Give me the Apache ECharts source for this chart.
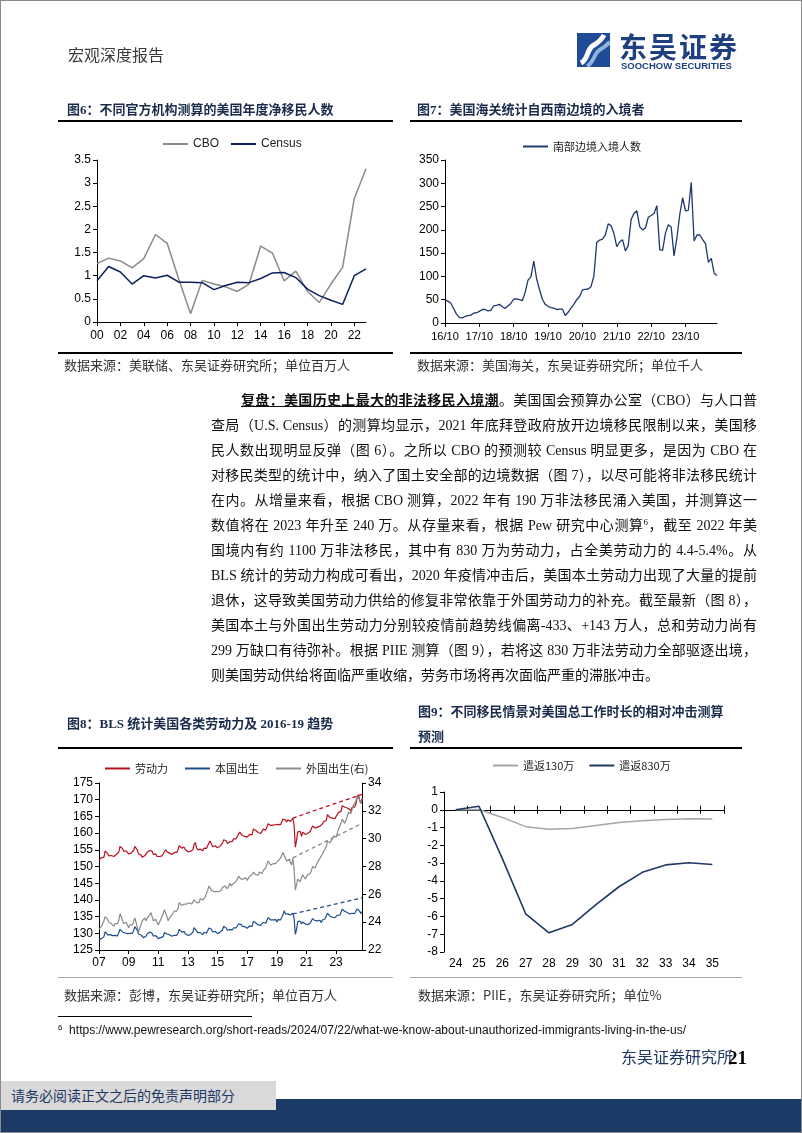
<!DOCTYPE html>
<html lang="zh-CN">
<head>
<meta charset="utf-8">
<script src="https://cdn.jsdelivr.net/npm/echarts@6/dist/echarts.min.js"></script>
<style>
html,body{margin:0;padding:0;background:#fff;}
#page{position:relative;width:802px;height:1133px;overflow:hidden;background:#fff;}
#chart{position:absolute;left:0;top:0;width:802px;height:1133px;z-index:1;}
.t{position:absolute;white-space:nowrap;height:20px;line-height:20px;z-index:2;font-family:"Liberation Serif","Noto Sans CJK SC",serif;}
.ttl{font-size:13px;font-weight:700;color:#1a2b4c;}
.src{font-size:13px;color:#333;font-family:"Noto Sans CJK SC",sans-serif;}
.rule{position:absolute;background:#000;height:2px;z-index:2;}
.p{position:absolute;left:211px;width:546px;height:25px;line-height:25px;font-size:14px;color:#111;
   font-family:"Liberation Serif","Noto Sans CJK SC",serif;text-align:justify;text-align-last:justify;z-index:2;white-space:nowrap;}
.b{font-weight:700;text-decoration:underline;}
.sup{font-size:9px;position:relative;top:-5px;}
#frame{position:absolute;left:0;top:0;width:802px;height:1133px;box-sizing:border-box;border:1px solid #8a8a8a;z-index:5;pointer-events:none;}
</style>
</head>
<body>
<div id="page">
<div id="chart"></div>

<!-- header -->
<div class="t" style="left:68px;top:44px;font-size:16px;color:#3a3a3a;font-family:'Noto Sans CJK SC',sans-serif;">宏观深度报告</div>
<svg style="position:absolute;left:577px;top:33px;z-index:2" width="33" height="34" viewBox="0 0 33 34">
  <rect width="33" height="34" fill="#1f4a96"/>
  <path d="M4 30 C12 26 9 16 17 12 C22 9 25 6 27 2" stroke="#fff" stroke-width="5" fill="none"/>
  <path d="M10 33 C18 29 16 20 24 16 C28 14 30 12 33 9" stroke="#8fb3e0" stroke-width="4" fill="none"/>
</svg>
<div class="t" style="left:619px;top:29px;height:34px;line-height:34px;font-size:28px;color:#1f3f7f;font-weight:700;font-family:'Noto Sans CJK SC',sans-serif;letter-spacing:2px;">东吴证券</div>
<div class="t" style="left:621px;top:60px;height:12px;line-height:12px;font-size:9.5px;color:#1f3f7f;font-weight:700;font-family:'Liberation Sans',Arial,sans-serif;">SOOCHOW SECURITIES</div>

<!-- fig 6 / 7 titles -->
<div class="t ttl" style="left:67px;top:100px;">图6：不同官方机构测算的美国年度净移民人数</div>
<div class="t ttl" style="left:417px;top:100px;">图7：美国海关统计自西南边境的入境者</div>
<div class="rule" style="left:58px;top:120px;width:335px;"></div>
<div class="rule" style="left:410px;top:120px;width:332px;"></div>
<div class="rule" style="left:58px;top:352px;width:335px;"></div>
<div class="rule" style="left:410px;top:352px;width:332px;"></div>
<div class="t src" style="left:64px;top:355px;">数据来源：美联储、东吴证券研究所；单位百万人</div>
<div class="t src" style="left:417px;top:355px;">数据来源：美国海关，东吴证券研究所；单位千人</div>

<!-- paragraph -->
<div class="p" style="top:387.5px;left:241px;width:516px;"><span class="b">复盘：美国历史上最大的非法移民入境潮</span>。美国国会预算办公室（CBO）与人口普</div>
<div class="p" style="top:412.5px;">查局（U.S. Census）的测算均显示，2021 年底拜登政府放开边境移民限制以来，美国移</div>
<div class="p" style="top:437.5px;">民人数出现明显反弹（图 6）。之所以 CBO 的预测较 Census 明显更多，是因为 CBO 在</div>
<div class="p" style="top:462.5px;">对移民类型的统计中，纳入了国土安全部的边境数据（图 7），以尽可能将非法移民统计</div>
<div class="p" style="top:487.5px;">在内。从增量来看，根据 CBO 测算，2022 年有 190 万非法移民涌入美国，并测算这一</div>
<div class="p" style="top:512.5px;">数值将在 2023 年升至 240 万。从存量来看，根据 Pew 研究中心测算<span class="sup">6</span>，截至 2022 年美</div>
<div class="p" style="top:537.5px;">国境内有约 1100 万非法移民，其中有 830 万为劳动力，占全美劳动力的 4.4-5.4%。从</div>
<div class="p" style="top:562.5px;">BLS 统计的劳动力构成可看出，2020 年疫情冲击后，美国本土劳动力出现了大量的提前</div>
<div class="p" style="top:587.5px;">退休，这导致美国劳动力供给的修复非常依靠于外国劳动力的补充。截至最新（图 8），</div>
<div class="p" style="top:612.5px;">美国本土与外国出生劳动力分别较疫情前趋势线偏离-433、+143 万人，总和劳动力尚有</div>
<div class="p" style="top:637.5px;">299 万缺口有待弥补。根据 PIIE 测算（图 9），若将这 830 万非法劳动力全部驱逐出境，</div>
<div class="p" style="top:662.5px;text-align-last:left;">则美国劳动供给将面临严重收缩，劳务市场将再次面临严重的滞胀冲击。</div>

<!-- fig 8 / 9 titles -->
<div class="t ttl" style="left:67px;top:714px;">图8：BLS 统计美国各类劳动力及 2016-19 趋势</div>
<div class="t ttl" style="left:418px;top:702px;">图9：不同移民情景对美国总工作时长的相对冲击测算</div>
<div class="t ttl" style="left:418px;top:727px;">预测</div>
<div class="rule" style="left:58px;top:747px;width:335px;"></div>
<div class="rule" style="left:410px;top:747px;width:332px;"></div>
<div class="rule" style="left:58px;top:977px;width:335px;height:1px;background:#aaa;"></div>
<div class="rule" style="left:410px;top:977px;width:332px;height:1px;background:#aaa;"></div>
<div class="t src" style="left:64px;top:985px;">数据来源：彭博，东吴证券研究所；单位百万人</div>
<div class="t src" style="left:418px;top:985px;">数据来源：PIIE，东吴证券研究所；单位%</div>

<!-- footnote & footer -->
<div class="rule" style="left:58px;top:1016px;width:194px;height:1px;"></div>
<div class="t" style="left:58px;top:1020px;font-size:12px;color:#111;font-family:'Liberation Sans',Arial,sans-serif;"><span style="font-size:8px;position:relative;top:-4px;">6</span>&nbsp; https://www.pewresearch.org/short-reads/2024/07/22/what-we-know-about-unauthorized-immigrants-living-in-the-us/</div>
<div class="t" style="left:621px;top:1046px;font-size:16px;color:#1f3864;font-family:'Noto Sans CJK SC',sans-serif;">东吴证券研究所</div>
<div class="t" style="left:728px;top:1048px;font-size:19px;font-weight:700;color:#000;font-family:'Liberation Serif',serif;">21</div>
<div style="position:absolute;left:0;top:1099px;width:802px;height:34px;background:#1b3a66;z-index:2;"></div>
<div style="position:absolute;left:0;top:1081px;width:276px;height:29px;background:#d9d9d9;z-index:3;"></div>
<div class="t" style="left:11px;top:1085px;font-size:14px;color:#1f3864;z-index:4;font-family:'Noto Sans CJK SC',sans-serif;">请务必阅读正文之后的免责声明部分</div>
<div id="frame"></div>
</div>

<script>
// ---------- Fig 6: net immigration (millions) ----------
const fig6Years = ['00','01','02','03','04','05','06','07','08','09','10','11','12','13','14','15','16','17','18','19','20','21','22','23'];
const cbo    = [1.26,1.38,1.32,1.17,1.37,1.89,1.70,0.92,0.18,0.90,0.82,0.76,0.66,0.82,1.64,1.49,0.89,1.10,0.66,0.42,0.82,1.18,2.67,3.31];
const census = [0.89,1.20,1.08,0.82,1.00,0.95,1.01,0.86,0.86,0.85,0.70,0.79,0.86,0.85,0.94,1.06,1.07,0.96,0.71,0.57,0.47,0.38,1.00,1.15];

// ---------- Fig 7: southwest border encounters (thousand), 2016/10 - 2024/09 ----------
const borderStart = [2016, 10];
const borderEntries = [
  50,47,43,31,19,12,11,14,16,17,21,22,
  25,29,29,26,27,37,38,40,35,31,37,42,
  51,52,50,48,66,92,99,133,95,72,51,40,
  36,33,32,29,30,30,16,23,32,40,50,57,
  71,72,73,78,101,173,178,180,189,213,209,192,
  164,174,179,155,166,222,235,241,207,200,204,227,
  231,235,252,157,156,193,211,206,144,183,233,269,
  241,242,302,176,189,189,179,170,130,139,107,102
];

// ---------- Fig 8: BLS labor force (millions), 2007/01 - 2024/10 ----------
const laborStart = [2007, 1];
const laborForce = [
  152.0,152.3,152.6,152.3,152.8,154.7,155.0,153.8,153.2,153.4,153.3,153.6,
  153.0,153.4,153.6,153.4,154.3,156.0,156.3,155.4,154.6,155.0,154.6,154.5,
  153.8,154.2,154.0,154.0,154.8,156.0,156.2,155.0,153.8,153.8,153.4,152.8,
  152.8,153.2,153.6,154.3,154.3,154.8,155.2,154.6,153.6,153.6,153.8,153.0,
  152.8,153.0,153.2,153.2,153.5,154.4,155.0,154.4,154.0,154.0,153.7,153.6,
  153.5,154.2,154.5,154.2,155.0,156.2,156.5,155.5,155.5,155.8,155.0,155.2,
  154.4,154.5,154.5,154.5,155.0,156.6,157.2,155.6,155.0,154.6,155.2,154.8,
  154.7,155.5,156.0,155.4,155.7,157.0,157.6,156.8,155.9,156.3,156.2,155.8,
  155.6,156.1,156.1,156.6,157.0,158.0,158.5,157.7,156.9,157.3,157.4,157.6,
  157.5,158.3,158.6,158.3,158.2,159.7,160.3,159.8,159.3,159.1,159.0,158.9,
  158.8,159.2,159.6,159.5,159.5,161.2,161.6,160.8,160.4,160.2,160.3,159.9,
  159.9,161.2,161.0,160.9,161.3,162.8,163.2,162.3,161.9,162.4,162.6,162.5,
  162.0,162.6,162.5,162.5,162.6,164.2,164.7,163.9,163.3,164.0,163.6,163.5,
  163.7,164.4,162.5,155.8,157.8,160.4,160.7,160.5,159.0,160.3,160.0,159.6,
  159.6,159.9,160.2,160.5,160.5,162.1,162.4,161.5,161.2,161.8,161.9,162.1,
  161.6,162.8,163.5,163.3,163.7,165.5,165.4,164.7,164.5,164.5,164.2,164.3,
  164.6,165.6,166.2,165.9,166.5,168.2,168.5,167.8,167.3,167.5,167.3,167.1,
  166.5,167.8,167.8,167.8,168.6,170.5,171.5,170.0,169.0,170.4
];
const nativeBorn = [
  128.2,128.3,128.4,128.3,129.0,130.5,130.3,129.5,129.3,129.6,129.4,129.3,
  128.9,129.4,129.3,129.2,129.6,131.2,131.3,130.4,129.9,130.1,130.0,129.9,
  129.6,130.0,130.2,130.0,130.8,132.0,131.8,130.9,129.8,129.6,129.5,129.0,
  128.7,128.8,129.1,129.8,129.8,130.4,130.8,130.0,129.2,129.2,129.3,128.9,
  128.4,128.6,128.7,128.9,129.0,130.2,130.6,129.8,129.6,129.6,129.3,129.1,
  128.7,129.4,129.7,129.4,130.0,131.2,131.5,130.4,130.3,130.5,129.8,130.0,
  129.4,129.6,129.6,129.6,130.3,131.7,132.0,130.8,130.2,129.8,130.2,130.0,
  129.6,130.3,130.5,130.0,130.3,131.6,132.0,131.2,130.4,130.7,130.6,130.3,
  129.9,130.3,130.3,130.7,131.0,132.1,132.4,131.6,130.9,131.1,131.1,131.4,
  131.0,131.6,131.8,131.6,131.5,132.8,133.3,132.7,132.1,132.0,132.0,131.8,
  131.5,131.9,132.2,132.2,132.1,133.6,134.0,133.1,132.7,132.5,132.7,132.4,
  132.3,133.3,133.0,133.0,133.3,134.7,135.0,134.0,133.6,134.0,134.2,134.1,
  133.4,134.1,134.0,134.0,134.2,135.6,136.8,135.8,135.3,135.8,135.4,135.5,
  135.4,136.0,134.6,129.7,131.2,133.6,133.8,133.6,132.8,133.4,133.1,132.8,
  132.5,132.6,132.9,133.0,132.9,134.4,134.7,133.8,133.4,133.7,133.8,133.9,
  133.2,134.0,134.4,134.3,134.6,136.0,135.6,135.2,134.7,134.8,134.6,134.7,
  134.6,135.4,135.7,135.4,135.8,137.2,137.5,136.6,136.1,136.2,135.9,135.8,
  135.3,136.0,135.9,135.9,136.3,137.3,137.5,136.7,135.9,136.5
];
const foreignBorn = [
  23.5,23.6,23.7,23.8,24.1,24.4,24.4,24.2,24.0,24.0,23.9,23.9,
  23.7,23.9,23.8,23.9,24.1,24.6,24.4,24.1,23.9,23.9,24.0,23.8,
  23.6,23.8,23.9,23.8,24.0,24.3,24.0,23.6,23.3,23.6,23.8,24.1,
  24.0,24.3,24.1,24.3,24.2,24.5,24.7,24.4,24.1,24.2,24.2,24.0,
  23.8,24.0,24.2,24.4,24.6,24.9,24.8,24.4,24.1,24.3,24.4,24.5,
  24.6,24.8,24.9,24.8,25.0,25.4,25.5,25.2,25.1,25.3,25.2,25.3,
  25.2,25.4,25.3,25.3,25.4,25.6,25.5,25.4,25.3,25.4,25.7,25.8,
  25.6,25.7,25.8,25.9,26.3,26.6,26.6,26.3,26.2,26.2,26.3,26.2,
  26.1,26.2,26.2,26.3,26.5,26.5,26.6,26.5,26.4,26.6,26.8,26.6,
  26.6,26.8,26.9,26.9,27.0,27.3,27.4,27.1,27.0,27.1,27.1,27.2,
  27.0,27.1,27.3,27.3,27.4,27.6,27.5,27.4,27.3,27.4,27.6,27.5,
  27.5,27.7,27.8,27.9,28.0,28.4,28.3,28.1,28.0,28.2,28.3,28.2,
  28.2,28.4,28.5,28.6,28.8,29.0,28.9,28.6,28.4,28.5,28.5,28.3,
  28.1,28.6,27.8,26.3,26.7,27.1,27.0,26.9,27.2,27.4,27.3,27.1,
  27.2,27.4,27.5,27.5,27.7,28.0,28.1,27.9,28.0,28.3,28.4,28.6,
  28.6,28.9,29.1,29.2,29.4,29.8,29.9,29.7,29.8,30.0,30.2,30.1,
  30.1,30.4,30.7,30.8,31.1,31.4,31.3,31.1,31.3,31.6,31.9,31.9,
  31.8,32.1,32.4,32.4,32.7,33.1,33.2,32.8,32.5,32.9
];
// 2016-19 trend lines extended (start/end months and values)
const laborTrend   = [['2020/02',164.5],['2024/10',171.6]];
const nativeTrend  = [['2020/02',135.8],['2024/10',140.6]];
const foreignTrend = [['2019/09',28.4],['2024/10',31.1]];

// ---------- Fig 9: PIIE scenarios (%) ----------
const fig9Years = ['24','25','26','27','28','29','30','31','32','33','34','35'];
const deport130 = [0,0.02,-0.43,-0.95,-1.10,-1.05,-0.88,-0.72,-0.62,-0.55,-0.51,-0.52];
const deport830 = [0,0.20,-2.75,-5.85,-6.92,-6.45,-5.35,-4.33,-3.52,-3.10,-2.98,-3.08];

// ---------- category labels ----------
function monthLabels(start, n, full) {
  const out = [];
  let y = start[0], m = start[1];
  for (let i = 0; i < n; i++) {
    const mm = (m < 10 ? '0' : '') + m;
    out.push(full ? (y + '/' + mm) : (String(y).slice(2) + '/' + mm));
    m++; if (m > 12) { m = 1; y++; }
  }
  return out;
}
const borderMonths = monthLabels(borderStart, borderEntries.length, false);
const laborMonths = monthLabels(laborStart, laborForce.length, true);

// ---------- option ----------
const LAT = '"Liberation Sans", Arial, sans-serif';
const CJK = '"Noto Sans CJK SC", sans-serif';
const black = {color:'#000', width:1};
function valAxis(extra) {
  return Object.assign({
    type:'value',
    axisLine:{show:true, onZero:false, lineStyle:black},
    axisTick:{show:true, length:4, lineStyle:black},
    splitLine:{show:false},
    axisLabel:{color:'#000', fontSize:12, fontFamily:LAT, margin:6}
  }, extra);
}
function catAxis(extra, labelExtra, tickExtra) {
  return Object.assign({
    type:'category',
    axisLine:{show:true, onZero:false, lineStyle:black},
    axisTick:Object.assign({show:true, length:4, lineStyle:black}, tickExtra || {}),
    splitLine:{show:false},
    axisLabel:Object.assign({color:'#000', fontSize:12, fontFamily:LAT, margin:7}, labelExtra || {})
  }, extra);
}
function lineSeries(name, xi, yi, data, color, width, z) {
  return {name, type:'line', xAxisIndex:xi, yAxisIndex:yi, data, symbol:'none', showSymbol:false,
          smooth:false, z:z || 2, lineStyle:{color, width}, itemStyle:{color}, emphasis:{disabled:true}};
}
function trendSeries(name, yi, data, color) {
  return {name, type:'line', xAxisIndex:2, yAxisIndex:yi, data, symbol:'none', showSymbol:false,
          z:3, lineStyle:{color, width:1.3, type:[4,3]}, itemStyle:{color}, emphasis:{disabled:true}};
}
function legend(names, left, top, gap, textGap) {
  return {data:names, left, top, orient:'horizontal', icon:'rect', itemWidth:25, itemHeight:2,
          itemGap:gap, itemTextGap:textGap, padding:0, selectedMode:false,
          textStyle:{fontSize:11, color:'#222', fontFamily:CJK}};
}

const RED = '#b8101f', BLUE = '#1f4e8c', GRAY = '#8a8a8a', NAVY = '#0c1f5e', NAVY2 = '#1f3a6e';

const option = {
  animation:false,
  grid:[
    {left:97, top:160, width:269, height:162, outerBoundsMode:'none', containLabel:false},
    {left:445, top:160, width:272, height:163, outerBoundsMode:'none', containLabel:false},
    {left:99, top:783, width:263, height:167, outerBoundsMode:'none', containLabel:false},
    {left:444, top:792, width:280, height:160, outerBoundsMode:'none', containLabel:false}
  ],
  legend:[
    Object.assign(legend(['CBO','Census'], 163, 138, 12, 4), {textStyle:{fontSize:12, color:'#222', fontFamily:LAT}}),
    legend(['南部边境入境人数'], 523, 141, 10, 4),
    legend(['劳动力','本国出生','外国出生(右)'], 105, 763, 17, 4),
    legend(['遣返130万','遣返830万'], 493, 760, 15, 3)
  ],
  xAxis:[
    catAxis({gridIndex:0, data:fig6Years, boundaryGap:false}, {interval:1, margin:8}, {interval:1}),
    catAxis({gridIndex:1, data:borderMonths, boundaryGap:false},
            {interval:(i)=>i%12===0, fontSize:11, margin:8}, {interval:(i)=>i%12===0}),
    catAxis({gridIndex:2, data:laborMonths, boundaryGap:false},
            {interval:(i)=>i%24===0, formatter:(v)=>v.slice(2,4), margin:7}, {interval:(i)=>i%24===0}),
    catAxis({gridIndex:3, data:fig9Years, boundaryGap:true, position:'bottom', axisLine:{show:false, onZero:false}},
            {interval:0, margin:6}, {show:false}),
    catAxis({gridIndex:3, data:fig9Years, boundaryGap:true, position:'bottom',
             axisLine:{show:true, onZero:true, onZeroAxisIndex:4, lineStyle:{color:'#000', width:1}}},
            {show:false}, {length:4, inside:false}),
    catAxis({gridIndex:3, data:fig9Years, boundaryGap:true, position:'top',
             axisLine:{show:true, onZero:true, onZeroAxisIndex:4, lineStyle:{color:'#000', width:1}}},
            {show:false}, {length:4, inside:false})
  ],
  yAxis:[
    valAxis({gridIndex:0, min:0, max:3.5, interval:0.5}),
    valAxis({gridIndex:1, min:0, max:350, interval:50}),
    valAxis({gridIndex:2, min:125, max:175, interval:5, position:'left'}),
    valAxis({gridIndex:2, min:22, max:34, interval:2, position:'right'}),
    valAxis({gridIndex:3, min:-8, max:1, interval:1})
  ],
  series:[
    lineSeries('CBO', 0, 0, cbo, GRAY, 1.5),
    lineSeries('Census', 0, 0, census, NAVY, 1.5, 3),
    lineSeries('南部边境入境人数', 1, 1, borderEntries, NAVY2, 1.3),
    lineSeries('劳动力', 2, 2, laborForce, RED, 1.2),
    lineSeries('本国出生', 2, 2, nativeBorn, BLUE, 1.2),
    lineSeries('外国出生(右)', 2, 3, foreignBorn, GRAY, 1.2),
    trendSeries('劳动力趋势', 2, laborTrend, RED),
    trendSeries('本国出生趋势', 2, nativeTrend, BLUE),
    trendSeries('外国出生趋势', 3, foreignTrend, GRAY),
    lineSeries('遣返130万', 3, 4, deport130, '#a6a6a6', 1.5),
    lineSeries('遣返830万', 3, 4, deport830, '#1f3864', 1.6, 3)
  ]
};
const chart = echarts.init(document.getElementById('chart'), null, {renderer:'canvas', width:802, height:1133});
chart.setOption(option);
</script>
</body>
</html>
